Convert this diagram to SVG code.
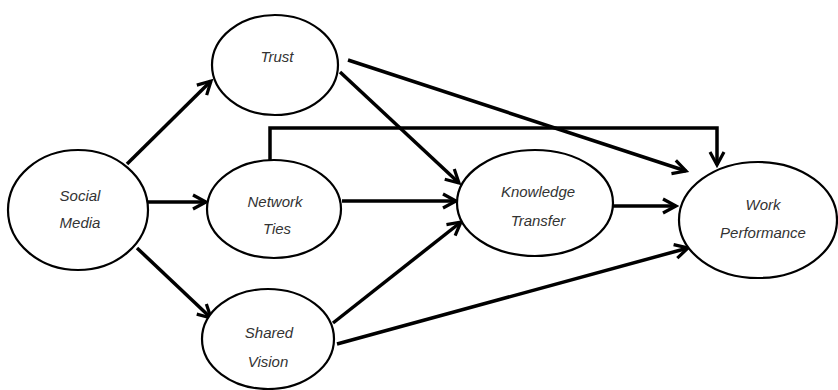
<svg xmlns="http://www.w3.org/2000/svg" width="838" height="390" viewBox="0 0 838 390">
<style>
.node ellipse{fill:#fff;stroke:#000;stroke-width:2.2}
.node text{font-family:"Liberation Sans",Arial,sans-serif;font-style:italic;font-size:15px;fill:#333;text-anchor:middle}
.edge{fill:none;stroke:#000;stroke-width:3.5;marker-end:url(#arr)}
</style>
<defs>
<marker id="arr" markerUnits="userSpaceOnUse" markerWidth="20" markerHeight="20" refX="15" refY="8" orient="auto" overflow="visible">
<path d="M2,1 L15,8 L2,15" fill="none" stroke="#000" stroke-width="3.2" stroke-linejoin="miter"/>
</marker>
</defs>
<rect width="838" height="390" fill="#fff"/>
<g id="connectors">
<line class="edge" x1="127" y1="164" x2="211" y2="81"/>
<line class="edge" x1="148" y1="202" x2="206" y2="202"/>
<line class="edge" x1="137" y1="248" x2="211" y2="318"/>
<line class="edge" x1="340" y1="72" x2="459" y2="183"/>
<line class="edge" x1="348" y1="60" x2="686" y2="171"/>
<polyline class="edge" points="270,161 270,128 717,128 717,165"/>
<line class="edge" x1="342" y1="201" x2="456" y2="201"/>
<line class="edge" x1="333" y1="323" x2="461" y2="222"/>
<line class="edge" x1="337" y1="344" x2="688" y2="248"/>
<line class="edge" x1="613" y1="206" x2="676" y2="206"/>
</g>
<g id="trust" class="node"><ellipse cx="275" cy="65" rx="63" ry="50"/><text x="277" y="62">Trust</text></g>
<g id="social-media" class="node"><ellipse cx="78" cy="210" rx="70" ry="60"/><text x="80" y="201">Social</text><text x="80" y="228">Media</text></g>
<g id="network-ties" class="node"><ellipse cx="274" cy="209" rx="67" ry="49"/><text x="275" y="207">Network</text><text x="277" y="234">Ties</text></g>
<g id="shared-vision" class="node"><ellipse cx="268" cy="339" rx="66" ry="50"/><text x="269" y="338">Shared</text><text x="268" y="367">Vision</text></g>
<g id="knowledge-transfer" class="node"><ellipse cx="535" cy="203" rx="78" ry="53"/><text x="538" y="197">Knowledge</text><text x="538" y="226">Transfer</text></g>
<g id="work-performance" class="node"><ellipse cx="758" cy="220" rx="79" ry="58"/><text x="763" y="210">Work</text><text x="763" y="238">Performance</text></g>
</svg>
